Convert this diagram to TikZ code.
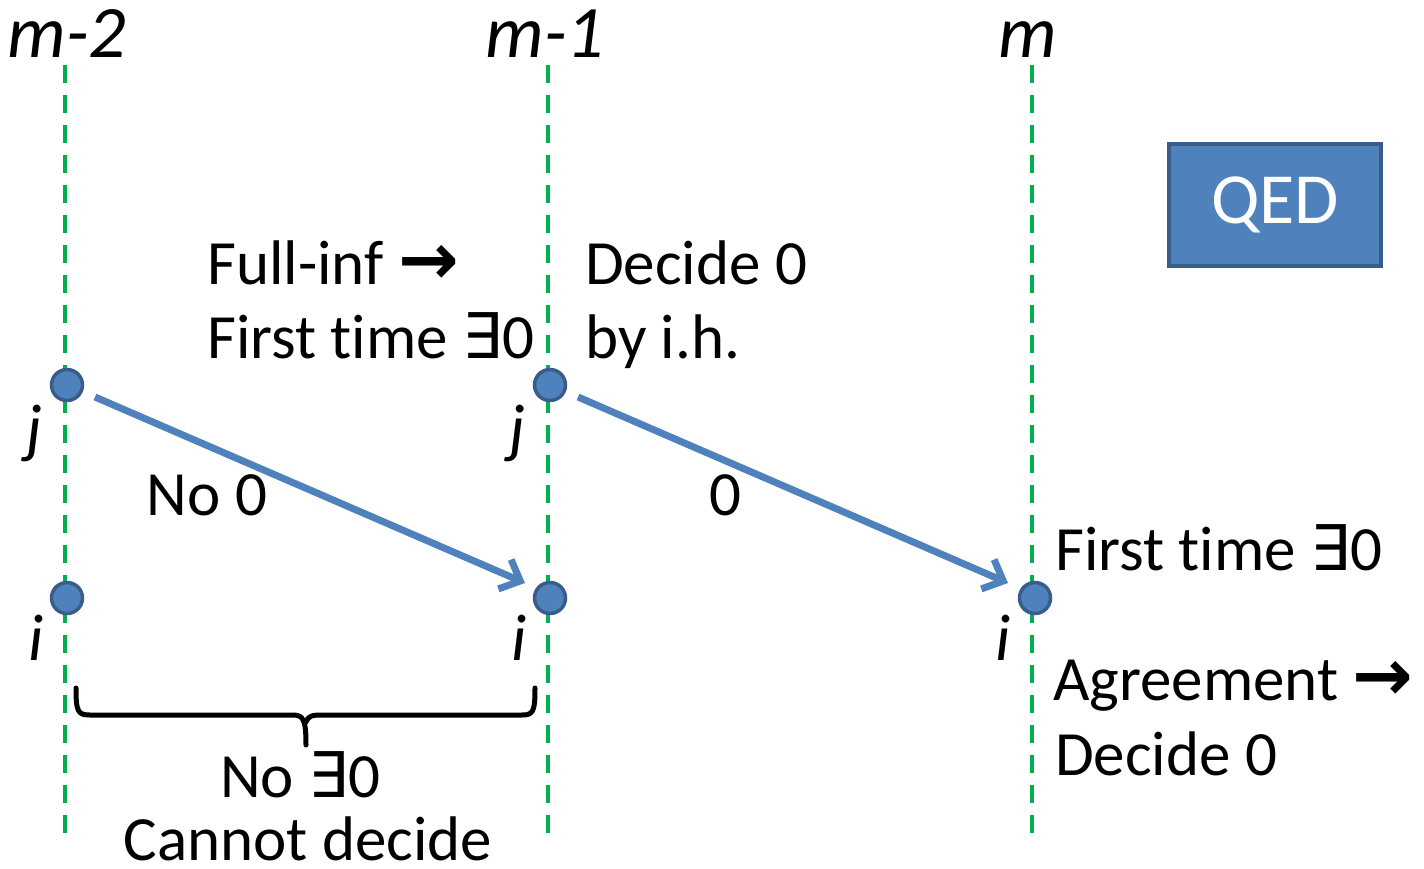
\documentclass[tikz,border=0pt]{standalone}
\usepackage{fontspec}
\setmainfont[Ligatures=NoCommon]{Carlito}
\newfontfamily\symf{DejaVu Sans}
\usetikzlibrary{arrows.meta}
\definecolor{lgreen}{RGB}{0,176,80}
\definecolor{nblue}{RGB}{79,129,189}
\definecolor{nborder}{RGB}{56,93,138}
\newcommand{\rarr}{{\symf\bfseries\scalebox{1.15}{→}}}
\newcommand{\exz}{{\symf ∃}}
\newcommand{\tme}{t\kern0pt ime}
\tikzset{
  timeline/.style={lgreen, line width=4.8pt, dash pattern=on 18pt off 12pt},
  proc/.style={circle, fill=nblue, draw=nborder, line width=3.5pt, minimum size=31pt, inner sep=0pt},
  msg/.style={nblue, line width=7pt, -{Straight Barb[length=17pt,width=32pt,line width=7pt]}},
  txt/.style={font=\fontsize{63}{75}\selectfont, inner sep=0pt, anchor=base west},
  itxt/.style={font=\fontsize{74}{86}\selectfont\itshape, inner sep=0pt, anchor=base},
  ltxt/.style={font=\fontsize{66}{78}\selectfont\itshape, inner sep=0pt, anchor=base},
}
\begin{document}
\begin{tikzpicture}[x=1pt,y=-1pt]
\useasboundingbox (0,0) rectangle (1424,868);
% timelines
\coordinate (t1a) at (65,65); \coordinate (t1b) at (65,838);
\coordinate (t2a) at (548,65); \coordinate (t2b) at (548,838);
\coordinate (t3a) at (1032,65); \coordinate (t3b) at (1032,838);
\draw[timeline] (t1a) -- (t1b);
\draw[timeline] (t2a) -- (t2b);
\draw[timeline] (t3a) -- (t3b);
% round labels
\node[itxt] (lm2) at (67,57) {m-2};
\node[itxt] (lm1) at (545,57) {m-1};
\node[itxt] (lm) at (1028,57) {m};
% processes
\node[proc] (j1) at (67,385) {};
\node[proc] (j2) at (550,385) {};
\node[proc] (i1) at (67,598) {};
\node[proc] (i2) at (550,598) {};
\node[proc] (i3) at (1035,598) {};
\node[ltxt] (lj1) at (34,450) {j};
\node[ltxt] (li1) at (36,660) {i};
\node[ltxt] (lj2) at (517,450) {j};
\node[ltxt] (li2) at (519,660) {i};
\node[ltxt] (li3) at (1003,660) {i};
% messages
\coordinate (s1) at (95,397); \coordinate (e1) at (525,583);
\coordinate (s2) at (578,397); \coordinate (e2) at (1008,583);
\draw[msg] (s1) -- (e1);
\draw[msg] (s2) -- (e2);
\node[txt, anchor=base] (no0) at (207,515) {No 0};
\node[txt, anchor=base] (zero) at (725,515) {0};
% texts
\node[txt] (fi) at (207,284) {Full-inf \rarr};
\node[txt] (ft1) at (207,358) {First \tme{} \exz0};
\node[txt] (d0) at (585,284) {Decide 0};
\node[txt] (ih) at (585,358) {by i.h.};
\node[txt] (ft3) at (1055,570) {First \tme{} \exz0};
\node[txt] (agr) at (1053,700) {Agreement \rarr};
\node[txt] (dec) at (1055,775) {Decide 0};
% brace
\coordinate (b1) at (76,688); \coordinate (b2) at (535,688); \coordinate (bt) at (306,745);
\draw[line width=5pt, line cap=round, line join=round]
  (b1) .. controls (76,712) and (78,715) .. (90,715) -- (292,715)
  .. controls (303,715) and (306,718) .. (bt)
  (306,722) .. controls (308,716) and (312,715) .. (322,715) -- (522,715)
  .. controls (533,715) and (535,712) .. (b2);
\node[txt, anchor=base] (no30) at (300,797) {No \exz0};
\node[txt, anchor=base] (cd) at (308,860) {Cannot decide};
% QED box
\node[draw=nborder, fill=nblue, line width=4pt, minimum width=212pt, minimum height=122pt,
  text=white, font=\fontsize{72}{84}\selectfont, inner sep=0pt] (qed) at (1275,205) {QED};
\end{tikzpicture}
\end{document}
